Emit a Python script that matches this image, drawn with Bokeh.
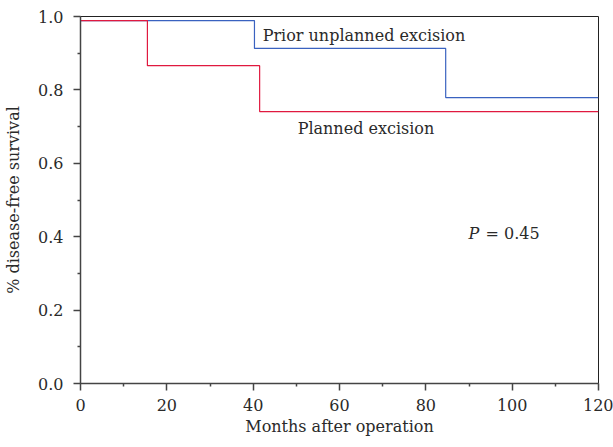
from bokeh.plotting import figure
from bokeh.embed import file_html
from bokeh.resources import INLINE
from bokeh.models import Label, FixedTicker, CustomJSTickFormatter

# Kaplan-Meier step data (months, survival)
unplanned_t = [0, 40.3, 84.6, 120]
unplanned_s = [0.989, 0.913, 0.779, 0.779]
planned_t = [0, 15.5, 41.5, 120]
planned_s = [0.989, 0.866, 0.741, 0.741]

x_ticks = [0, 20, 40, 60, 80, 100, 120]
x_minor = [10, 30, 50, 70, 90, 110]
y_ticks = [0.0, 0.2, 0.4, 0.6, 0.8, 1.0]
y_minor = [0.1, 0.3, 0.5, 0.7, 0.9]

FONT = "DejaVu Serif"
TXT = "#2a2a2a"

p = figure(width=613, height=447, x_range=(0, 120), y_range=(0, 1.0),
           output_backend="svg", toolbar_location=None,
           min_border_left=80, min_border_right=15, min_border_top=16, min_border_bottom=64)
p.grid.visible = False
p.outline_line_color = "#222222"
p.outline_line_width = 1

p.step(unplanned_t, unplanned_s, mode="after", line_color="#3A62C0", line_width=1.2)
p.step(planned_t, planned_s, mode="after", line_color="#E0193F", line_width=1.2)

for ax in (p.xaxis[0], p.yaxis[0]):
    ax.axis_line_color = "#444444"
    ax.axis_line_width = 1.5
    ax.major_tick_line_color = "#444444"
    ax.minor_tick_line_color = "#444444"
    ax.major_tick_line_width = 1.5
    ax.minor_tick_line_width = 1.5
    ax.major_tick_out = 7
    ax.major_tick_in = 0
    ax.minor_tick_out = 3
    ax.minor_tick_in = 0
    ax.major_label_text_font = FONT
    ax.major_label_text_font_size = "16px"
    ax.major_label_text_color = TXT
    ax.axis_label_text_font = FONT
    ax.axis_label_text_font_size = "16px"
    ax.axis_label_text_font_style = "normal"
    ax.axis_label_text_color = TXT

p.xaxis.ticker = FixedTicker(ticks=x_ticks, minor_ticks=x_minor)
p.yaxis.ticker = FixedTicker(ticks=y_ticks, minor_ticks=y_minor)
p.yaxis.formatter = CustomJSTickFormatter(code="return tick.toFixed(1);")
p.xaxis.axis_label = "Months after operation"
p.yaxis.axis_label = "% disease-free survival"
p.xaxis.major_label_standoff = 8
p.xaxis.axis_label_standoff = 3
p.yaxis.major_label_standoff = 10
p.yaxis.axis_label_standoff = 12

p.add_layout(Label(x=42.2, y=0.932, y_offset=6, text="Prior unplanned excision", text_font=FONT,
                   text_font_size="16px", text_color=TXT, text_baseline="alphabetic"))
p.add_layout(Label(x=50.3, y=0.681, y_offset=5, text="Planned excision", text_font=FONT,
                   text_font_size="16px", text_color=TXT, text_baseline="alphabetic"))
p.add_layout(Label(x=89.9, y=0.395, y_offset=5, text="P", text_font=FONT, text_font_style="italic",
                   text_font_size="16px", text_color=TXT, text_baseline="alphabetic"))
p.add_layout(Label(x=89.9, y=0.395, x_offset=17, y_offset=5, text="= 0.45", text_font=FONT,
                   text_font_size="16px", text_color=TXT, text_baseline="alphabetic"))

open("out.html", "w").write(file_html(p, INLINE))
